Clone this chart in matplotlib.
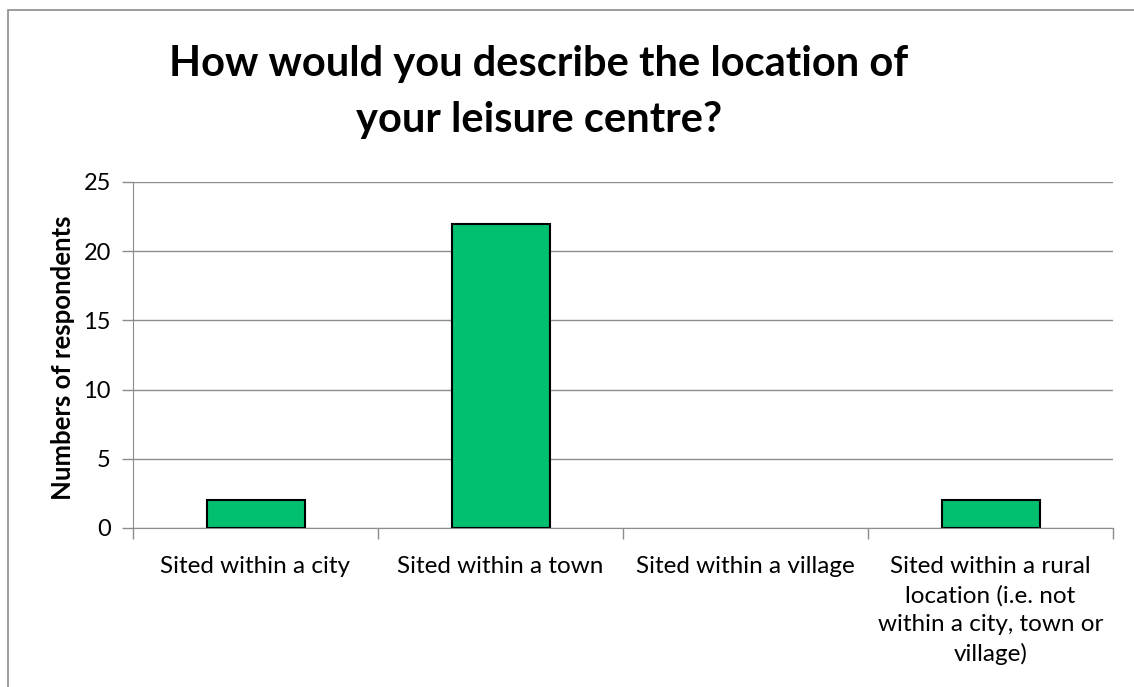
import matplotlib.pyplot as plt
from matplotlib.patches import Rectangle

categories = [
    "Sited within a city",
    "Sited within a town",
    "Sited within a village",
    "Sited within a rural\nlocation (i.e. not\nwithin a city, town or\nvillage)",
]
respondents = [2, 22, 0, 2]
y_ticks = [0, 5, 10, 15, 20, 25]

plt.rcParams['font.family'] = ['Lato', 'DejaVu Sans']

W, H = 1134, 687
fig = plt.figure(figsize=(W / 100, H / 100), dpi=100)

# outer chart border (runs off the right and bottom edges)
fig.patches.append(Rectangle((8 / W, -0.05), 1.2, 1 - 10 / H + 0.05,
                             transform=fig.transFigure, fill=False,
                             edgecolor="#8c8c8c", linewidth=1.2))

ax = fig.add_axes([133 / W, 1 - 528 / H, (1113 - 133) / W, (528 - 182) / H])

x = list(range(len(categories)))
# empty categories get no outline at all
edge_widths = [1.5 if v > 0 else 0 for v in respondents]
ax.bar(x, respondents, width=0.4, color="#00BF6F", edgecolor="black",
       linewidth=edge_widths, zorder=3)

ax.set_xlim(-0.5, len(categories) - 0.5)
ax.set_ylim(0, 25)
ax.set_yticks(y_ticks)
ax.yaxis.grid(True, color="#8c8c8c", linewidth=1.0, zorder=0)
ax.tick_params(axis="y", length=8, width=1, color="#8c8c8c",
               labelsize=17, pad=8)

# category labels centred, tick marks on category boundaries
ax.set_xticks(x)
ax.set_xticklabels(categories, fontsize=17.5, linespacing=1.45)
ax.tick_params(axis="x", length=0, pad=20)
ax.set_xticks([i - 0.5 for i in range(len(categories) + 1)], minor=True)
ax.tick_params(axis="x", which="minor", length=8, width=1, color="#8c8c8c")

for side in ["top", "right"]:
    ax.spines[side].set_visible(False)
ax.spines["left"].set_color("#8c8c8c")
ax.spines["bottom"].set_color("#8c8c8c")

# axis title placed directly so it sits close to the tick numbers
fig.text(63 / W, 1 - 358 / H, "Numbers of respondents", rotation=90,
         ha="center", va="center", fontsize=18.5, fontweight="bold")

fig.text(0.475, 1 - 92 / H, "How would you describe the location of\nyour leisure centre?",
         ha="center", va="center", fontsize=30, fontweight="bold",
         linespacing=1.6)

fig.savefig("out.png", dpi=100)
